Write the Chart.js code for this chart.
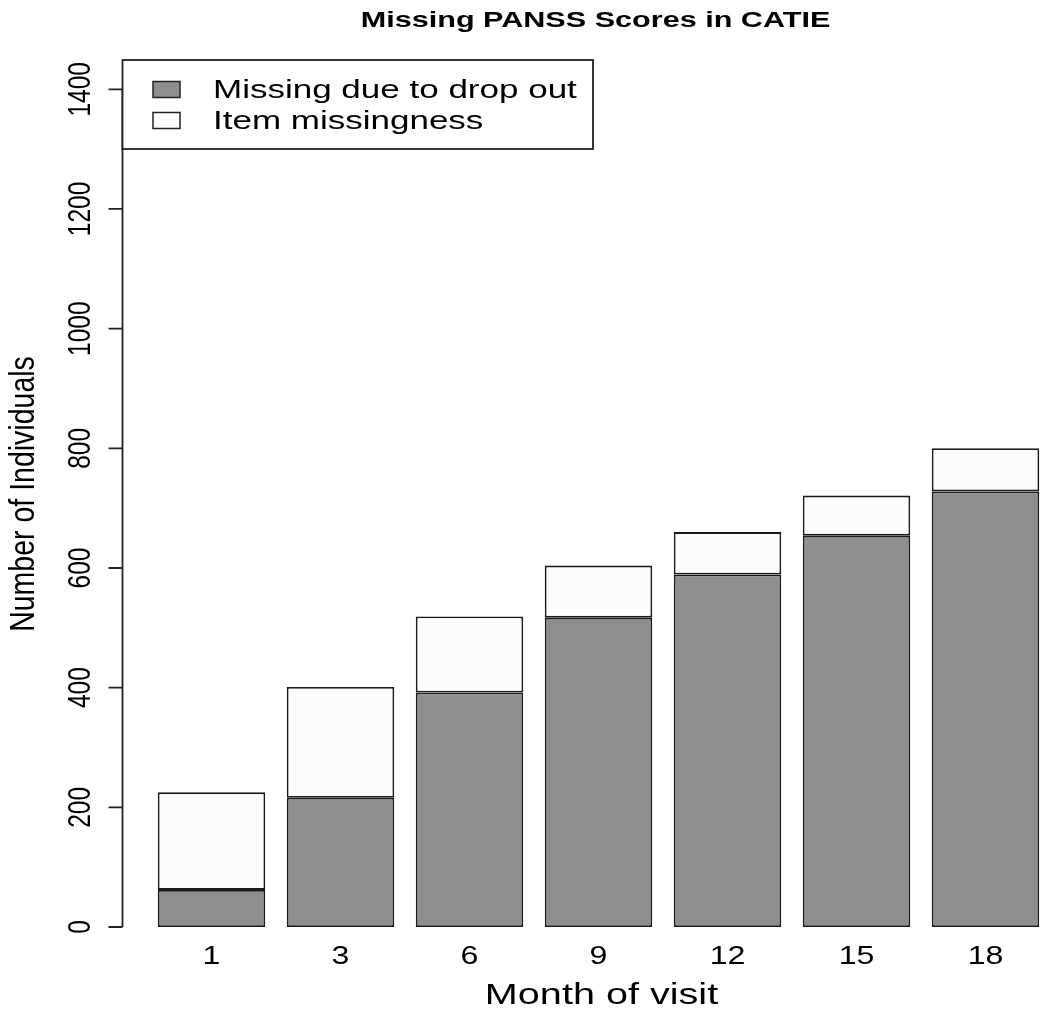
<!DOCTYPE html>
<html>
<head>
<meta charset="utf-8">
<title>Missing PANSS Scores in CATIE</title>
<script src="https://cdn.jsdelivr.net/npm/chart.js@4.4.1/dist/chart.umd.min.js"></script>
<style>
    body { margin: 0; background: #ffffff; }
</style>
</head>
<body>
<canvas id="graficoFaltantes" width="1050" height="1014"></canvas>
<script>
const meses = ['1', '3', '6', '9', '12', '15', '18'];
const faltaAbandono = [62, 216, 392, 517, 589, 654, 728];
const faltaItem = [163, 185, 127, 87, 71, 67, 72];
const ticksY = [0, 200, 400, 600, 800, 1000, 1200, 1400];

const nomesSeries = ['Missing due to drop out', 'Item missingness'];
const coresSeries = ['#8e8e8e', '#fcfcfc'];

const fonte = '"Liberation Sans", Arial, Helvetica, sans-serif';

function texto(ctx, str, x, y, tamanho, esticar, opcoes) {
    ctx.save();
    ctx.translate(x, y);
    if (opcoes.rotacao) ctx.rotate(opcoes.rotacao);
    ctx.scale(esticar[0], esticar[1]);
    ctx.font = (opcoes.negrito ? 'bold ' : '') + tamanho + 'px ' + fonte;
    ctx.fillStyle = '#000000';
    ctx.textAlign = opcoes.alinhar || 'center';
    ctx.textBaseline = 'alphabetic';
    ctx.fillText(str, 0, 0);
    ctx.restore();
}

const eixosR = {
    id: 'eixosR',
    afterDraw(chart) {
        const ctx = chart.ctx;
        const x = chart.scales.x;
        const y = chart.scales.y;

        // eixo y no estilo do R, afastado das barras
        const eixoX = 122.5;
        ctx.save();
        ctx.strokeStyle = '#222222';
        ctx.lineWidth = 1.8;
        ctx.beginPath();
        ctx.moveTo(eixoX, y.getPixelForValue(ticksY[0]));
        ctx.lineTo(eixoX, y.getPixelForValue(ticksY[ticksY.length - 1]));
        ticksY.forEach(t => {
            const py = y.getPixelForValue(t);
            ctx.moveTo(eixoX, py);
            ctx.lineTo(eixoX - 14, py);
        });
        ctx.stroke();
        ctx.restore();

        ticksY.forEach(t => {
            texto(ctx, String(t), 90, y.getPixelForValue(t), 24.5, [1, 1.3], { rotacao: -Math.PI / 2 });
        });

        meses.forEach((m, i) => {
            texto(ctx, m, x.getPixelForValue(i), 963.5, 25.5, [1.26, 1], {});
        });

        texto(ctx, 'Month of visit', 601.5, 1003.5, 30, [1.32, 1], {});
        texto(ctx, 'Number of Individuals', 34, 494, 28.5, [1, 1.22], { rotacao: -Math.PI / 2 });
        texto(ctx, 'Missing PANSS Scores in CATIE', 595.5, 26.7, 22, [1.39, 1], { negrito: true });

        // legenda
        ctx.save();
        ctx.fillStyle = '#ffffff';
        ctx.fillRect(122.5, 60, 470.5, 89);
        ctx.strokeStyle = '#222222';
        ctx.lineWidth = 1.8;
        ctx.strokeRect(122.5, 60, 470.5, 89);
        const linhas = [97.5, 128.5];
        nomesSeries.forEach((nome, i) => {
            ctx.fillStyle = coresSeries[i];
            ctx.fillRect(153, linhas[i] - 16, 27, 16);
            ctx.strokeStyle = '#222222';
            ctx.lineWidth = 1.5;
            ctx.strokeRect(153, linhas[i] - 16, 27, 16);
            texto(ctx, nome, 213, linhas[i], 25, [1.4, 1], { alinhar: 'left' });
        });
        ctx.restore();
    }
};

const graficoFaltantes = new Chart(document.getElementById('graficoFaltantes'), {
    type: 'bar',
    data: {
        labels: meses,
        datasets: [{
            label: nomesSeries[0],
            data: faltaAbandono,
            backgroundColor: coresSeries[0],
            borderColor: '#1a1a1a',
            borderWidth: 1.8,
            borderSkipped: false
        }, {
            label: nomesSeries[1],
            data: faltaItem,
            backgroundColor: coresSeries[1],
            borderColor: '#1a1a1a',
            borderWidth: 1.8,
            borderSkipped: false
        }]
    },
    options: {
        responsive: false,
        animation: false,
        layout: {
            padding: { left: 147, right: 0, top: 89.3, bottom: 87 }
        },
        datasets: {
            bar: {
                barPercentage: 0.833,
                categoryPercentage: 1
            }
        },
        plugins: {
            legend: { display: false },
            title: { display: false },
            tooltip: { enabled: false }
        },
        scales: {
            x: {
                stacked: true,
                display: false
            },
            y: {
                stacked: true,
                display: false,
                min: 0,
                max: 1400
            }
        }
    },
    plugins: [eixosR]
});
</script>
</body>
</html>
